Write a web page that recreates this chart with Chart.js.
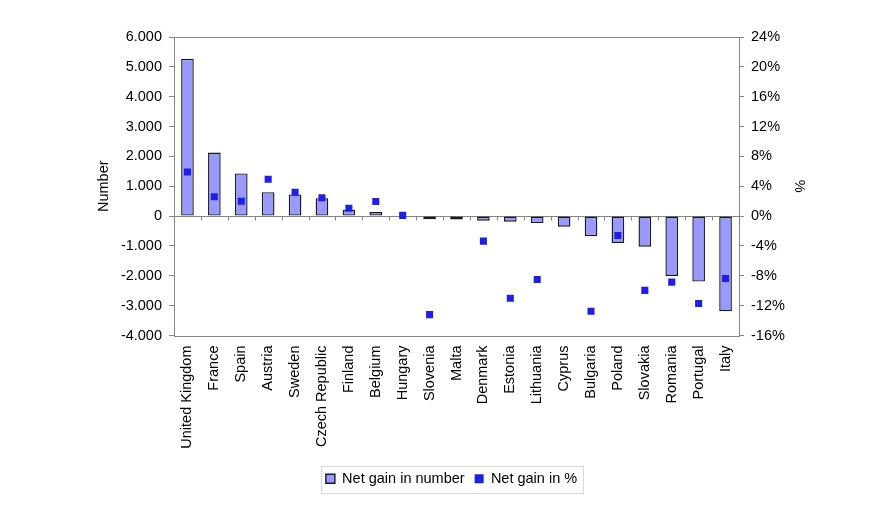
<!DOCTYPE html>
<html>
<head>
<meta charset="utf-8">
<script src="https://cdn.jsdelivr.net/npm/chart.js@4/dist/chart.umd.min.js"></script>
<style>
  body { margin: 0; background: #fff; }
</style>
</head>
<body>
<canvas id="netGainChart" width="885" height="515"></canvas>
<script>
const countries = [
  "United Kingdom", "France", "Spain", "Austria", "Sweden", "Czech Republic",
  "Finland", "Belgium", "Hungary", "Slovenia", "Malta", "Denmark", "Estonia",
  "Lithuania", "Cyprus", "Bulgaria", "Poland", "Slovakia", "Romania",
  "Portugal", "Italy"
];
const netGainNumber = [
  5270, 2130, 1430, 800, 725, 600, 210, 135, 0, -105, -110, -155, -190,
  -235, -355, -670, -900, -1025, -2005, -2195, -3190
];
// Malta and Cyprus have no percentage value in the source
const netGainPercent = [
  5.9, 2.6, 2.0, 4.95, 3.2, 2.45, 1.05, 1.95, 0.1, -13.2, null, -3.35, -11.0,
  -8.5, null, -12.75, -2.6, -9.95, -8.85, -11.7, -8.35
];
const leftTicks = { min: -4000, max: 6000, step: 1000 };
const rightTicks = { min: -16, max: 24, step: 4 };

const axisGrey = "#868686";
const fontFamily = "'Liberation Sans', Arial, sans-serif";
const fontSize = 14.5;

function formatThousands(v) {
  const s = Math.abs(v).toString().replace(/\B(?=(\d{3})+(?!\d))/g, ".");
  return (v < 0 ? "-" : "") + s;
}

// plot frame, zero line with its small ticks, and the legend box
const framePlugin = {
  id: "frame",
  beforeDatasetsDraw(chart) {
    const { ctx, chartArea, scales } = chart;
    const y0 = Math.round(scales.y.getPixelForValue(0)) + 0.5;
    ctx.save();
    ctx.strokeStyle = axisGrey;
    ctx.lineWidth = 1;
    ctx.beginPath();
    ctx.moveTo(chartArea.left, y0);
    ctx.lineTo(chartArea.right, y0);
    for (let i = 0; i <= countries.length; i++) {
      const x = Math.round(scales.x.getPixelForValue(i - 0.5)) + 0.5;
      ctx.moveTo(x, y0);
      ctx.lineTo(x, y0 + 4);
    }
    ctx.stroke();
    ctx.restore();
  },
  afterDraw(chart) {
    const { ctx, chartArea, legend } = chart;
    ctx.save();
    ctx.strokeStyle = axisGrey;
    ctx.lineWidth = 1;
    ctx.strokeRect(
      Math.round(chartArea.left) + 0.5,
      Math.round(chartArea.top) + 0.5,
      Math.round(chartArea.right - chartArea.left),
      Math.round(chartArea.bottom - chartArea.top)
    );
    const boxes = legend.legendHitBoxes;
    if (boxes && boxes.length) {
      const left = Math.min(...boxes.map((b) => b.left)) - 5;
      const right = Math.max(...boxes.map((b) => b.left + b.width)) + 6;
      const top = Math.min(...boxes.map((b) => b.top)) - 6;
      const bottom = Math.max(...boxes.map((b) => b.top + b.height)) + 6;
      ctx.strokeStyle = "#d9d9d9";
      ctx.strokeRect(Math.round(left) + 0.5, Math.round(top) + 0.5, Math.round(right - left), Math.round(bottom - top));
    }
    ctx.restore();
  },
};

const ctx = document.getElementById("netGainChart").getContext("2d");
new Chart(ctx, {
  data: {
    labels: countries,
    datasets: [
      {
        type: "bar",
        label: "Net gain in number",
        data: netGainNumber,
        yAxisID: "y",
        backgroundColor: "#9999ff",
        borderColor: "#1a1a1a",
        borderWidth: 1.4,
        borderSkipped: false,
        categoryPercentage: 1,
        barPercentage: 0.47,
        order: 2,
      },
      {
        type: "line",
        label: "Net gain in %",
        data: netGainPercent,
        yAxisID: "y1",
        showLine: false,
        pointStyle: "rect",
        pointRadius: 5,
        pointHoverRadius: 5,
        backgroundColor: "#1f1fe6",
        borderColor: "#1f1fe6",
        borderWidth: 0,
        order: 1,
      },
    ],
  },
  options: {
    responsive: false,
    animation: false,
    layout: { padding: { top: 37, left: 91, right: 73, bottom: 19 } },
    plugins: {
      tooltip: { enabled: false },
      legend: {
        position: "bottom",
        labels: {
          color: "#000",
          font: { family: fontFamily, size: fontSize },
          boxWidth: 9,
          boxHeight: 9,
          padding: 10,
          sort: (a, b) => a.datasetIndex - b.datasetIndex,
        },
      },
    },
    scales: {
      x: {
        grid: { display: false, drawTicks: false },
        border: { display: false },
        ticks: {
          color: "#000",
          font: { family: fontFamily, size: fontSize },
          minRotation: 90,
          maxRotation: 90,
          autoSkip: false,
          padding: 10,
        },
        afterFit(scale) {
          scale.height = 126;
        },
      },
      y: {
        position: "left",
        min: leftTicks.min,
        max: leftTicks.max,
        grid: { drawOnChartArea: false, color: axisGrey, tickLength: 5 },
        border: { display: false },
        ticks: {
          stepSize: leftTicks.step,
          color: "#000",
          font: { family: fontFamily, size: fontSize },
          padding: 7,
          callback: (v) => formatThousands(v),
        },
        title: {
          display: true,
          text: "Number",
          color: "#000",
          font: { family: fontFamily, size: fontSize },
        },
        afterFit(scale) {
          scale.width = 83;
        },
      },
      y1: {
        position: "right",
        min: rightTicks.min,
        max: rightTicks.max,
        grid: { drawOnChartArea: false, color: axisGrey, tickLength: 5 },
        border: { display: false },
        ticks: {
          stepSize: rightTicks.step,
          color: "#000",
          font: { family: fontFamily, size: fontSize },
          padding: 7,
          callback: (v) => v + "%",
        },
        title: {
          display: true,
          text: "%",
          color: "#000",
          font: { family: fontFamily, size: fontSize },
        },
        afterFit(scale) {
          scale.width = 73;
        },
      },
    },
  },
  plugins: [framePlugin],
});
</script>
</body>
</html>
